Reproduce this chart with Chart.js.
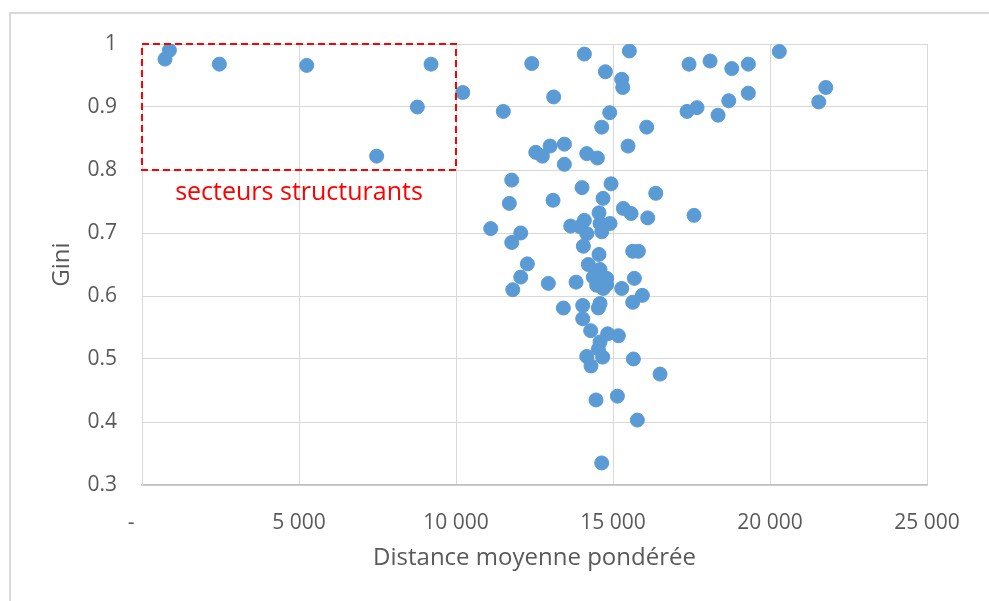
<!DOCTYPE html>
<html lang="fr">
<head>
  <meta charset="UTF-8" />
  <title>Gini / distance moyenne pondérée</title>
  <script src="https://cdn.jsdelivr.net/npm/chart.js@4.4.1/dist/chart.umd.min.js"></script>
  <style>
    html, body { margin: 0; padding: 0; background: #ffffff; }
    #wrap { width: 989px; height: 601px; position: relative; }
  </style>
</head>
<body>
  <div id="wrap"><canvas id="scatter"></canvas></div>

  <script>
    // --- data ---
    const distances = [
      873, 732, 2463, 5245, 9205, 8769, 7474, 10214, 12412, 14088,
      15521, 20298, 14757, 15278, 15310, 17422, 18091, 18782, 19310, 19310,
      18686, 13112, 11507, 14896, 17358, 17677, 18346, 14641, 16073, 15479,
      12540, 12749, 12995, 13451, 14164, 14502, 13451, 11775, 14014, 14938,
      14683, 16361, 11699, 13090, 17581, 15331, 15575, 16106, 11106, 12062,
      11775, 13654, 14088, 13950, 14555, 14906, 14641, 14164, 14587, 14056,
      14555, 15628, 15808, 12273, 12062, 11807, 12941, 13823, 14215, 14587,
      14374, 14799, 14480, 14693, 15278, 15681, 15935, 15628, 13419, 14035,
      14587, 14534, 14035, 14288, 14830, 15172, 14587, 14534, 14164, 14672,
      14299, 15649, 16498, 14459, 15140, 15776, 14641, 14799, 21776, 21553
    ];
    const giniValues = [
      0.990, 0.976, 0.968, 0.966, 0.968, 0.900, 0.822, 0.923, 0.969, 0.984,
      0.989, 0.988, 0.956, 0.944, 0.931, 0.968, 0.973, 0.961, 0.968, 0.922,
      0.910, 0.916, 0.893, 0.891, 0.893, 0.899, 0.887, 0.868, 0.868, 0.838,
      0.828, 0.822, 0.838, 0.841, 0.826, 0.819, 0.809, 0.784, 0.772, 0.778,
      0.755, 0.763, 0.747, 0.752, 0.728, 0.739, 0.731, 0.724, 0.707, 0.700,
      0.685, 0.711, 0.720, 0.710, 0.732, 0.715, 0.702, 0.699, 0.715, 0.679,
      0.666, 0.671, 0.671, 0.651, 0.630, 0.610, 0.620, 0.622, 0.650, 0.642,
      0.630, 0.628, 0.617, 0.612, 0.612, 0.628, 0.601, 0.590, 0.581, 0.585,
      0.588, 0.581, 0.564, 0.545, 0.540, 0.537, 0.527, 0.516, 0.504, 0.503,
      0.489, 0.500, 0.476, 0.435, 0.441, 0.403, 0.335, 0.618, 0.931, 0.908
    ];
    const xTicks = [0, 5000, 10000, 15000, 20000, 25000];
    const yTicks = [0.3, 0.4, 0.5, 0.6, 0.7, 0.8, 0.9, 1];
    // "secteurs structurants" box, in data units
    const boxX = [0, 10000];
    const boxY = [0.8, 1];
    const boxLabel = "secteurs structurants";

    const points = distances.map((d, i) => ({ x: d, y: giniValues[i] }));

    const FONT = "'Open Sans', 'Noto Sans', sans-serif";
    const TXT = "#595959";
    const GRID = "#d9d9d9";

    // frame + dashed box + label
    const decorPlugin = {
      id: "decor",
      beforeDraw(chart) {
        const ctx = chart.ctx;
        ctx.save();
        ctx.fillStyle = "#ffffff";
        ctx.fillRect(0, 0, chart.width, chart.height);
        ctx.strokeStyle = GRID;
        ctx.lineWidth = 2;
        ctx.beginPath();
        ctx.moveTo(10, chart.height);
        ctx.lineTo(10, 13);
        ctx.lineTo(chart.width, 13);
        ctx.stroke();
        ctx.restore();
      },
      afterDatasetsDraw(chart) {
        const { ctx, scales } = chart;
        const x0 = scales.x.getPixelForValue(boxX[0]);
        const x1 = scales.x.getPixelForValue(boxX[1]);
        const y0 = scales.y.getPixelForValue(boxY[1]);
        const y1 = scales.y.getPixelForValue(boxY[0]);
        ctx.save();
        ctx.strokeStyle = "#ff0000";
        ctx.lineWidth = 2;
        ctx.setLineDash([7, 4]);
        ctx.strokeRect(x0, y0, x1 - x0, y1 - y0);
        ctx.setLineDash([]);
        ctx.fillStyle = "#ff0000";
        ctx.font = "25px " + FONT;
        ctx.textAlign = "center";
        ctx.textBaseline = "middle";
        ctx.fillText(boxLabel, (x0 + x1) / 2, y1 + 23);
        ctx.restore();
      }
    };

    new Chart(document.getElementById("scatter"), {
      type: "scatter",
      data: {
        datasets: [{
          data: points,
          backgroundColor: "#5b9bd5",
          borderColor: "#5b9bd5",
          borderWidth: 1,
          pointRadius: 7,
          pointHoverRadius: 7
        }]
      },
      options: {
        responsive: true,
        maintainAspectRatio: false,
        animation: false,
        layout: { padding: { left: 0, right: 62, top: 44, bottom: 0 } },
        plugins: { legend: { display: false }, tooltip: { enabled: false } },
        scales: {
          x: {
            type: "linear",
            min: 0,
            max: 25000,
            afterBuildTicks(scale) { scale.ticks = xTicks.map(v => ({ value: v })); },
            afterFit(scale) { scale.height = 116; },
            grid: { color: GRID, lineWidth: 1, drawTicks: false },
            border: { color: "#bfbfbf", width: 1.5 },
            ticks: {
              padding: 25,
              color: TXT,
              font: { family: FONT, size: 21 },
              maxRotation: 0,
              callback: v => v === 0 ? "-    " : v.toLocaleString("fr-FR").replace(/\s/g, " ")
            },
            title: {
              display: true,
              text: "Distance moyenne pondérée",
              color: TXT,
              font: { family: FONT, size: 24 },
              padding: { top: 4, bottom: 28 }
            }
          },
          y: {
            type: "linear",
            min: 0.3,
            max: 1,
            afterBuildTicks(scale) { scale.ticks = yTicks.map(v => ({ value: v })); },
            afterFit(scale) { scale.width = 142; },
            grid: { color: GRID, lineWidth: 1, drawTicks: false },
            border: { color: GRID, width: 1 },
            ticks: {
              padding: 25,
              color: TXT,
              font: { family: FONT, size: 21 },
              callback: v => String(Number(v.toFixed(1)))
            },
            title: {
              display: true,
              text: "Gini",
              color: TXT,
              font: { family: FONT, size: 24 },
              padding: { top: 48, bottom: 4 }
            }
          }
        }
      },
      plugins: [decorPlugin]
    });
  </script>
</body>
</html>
